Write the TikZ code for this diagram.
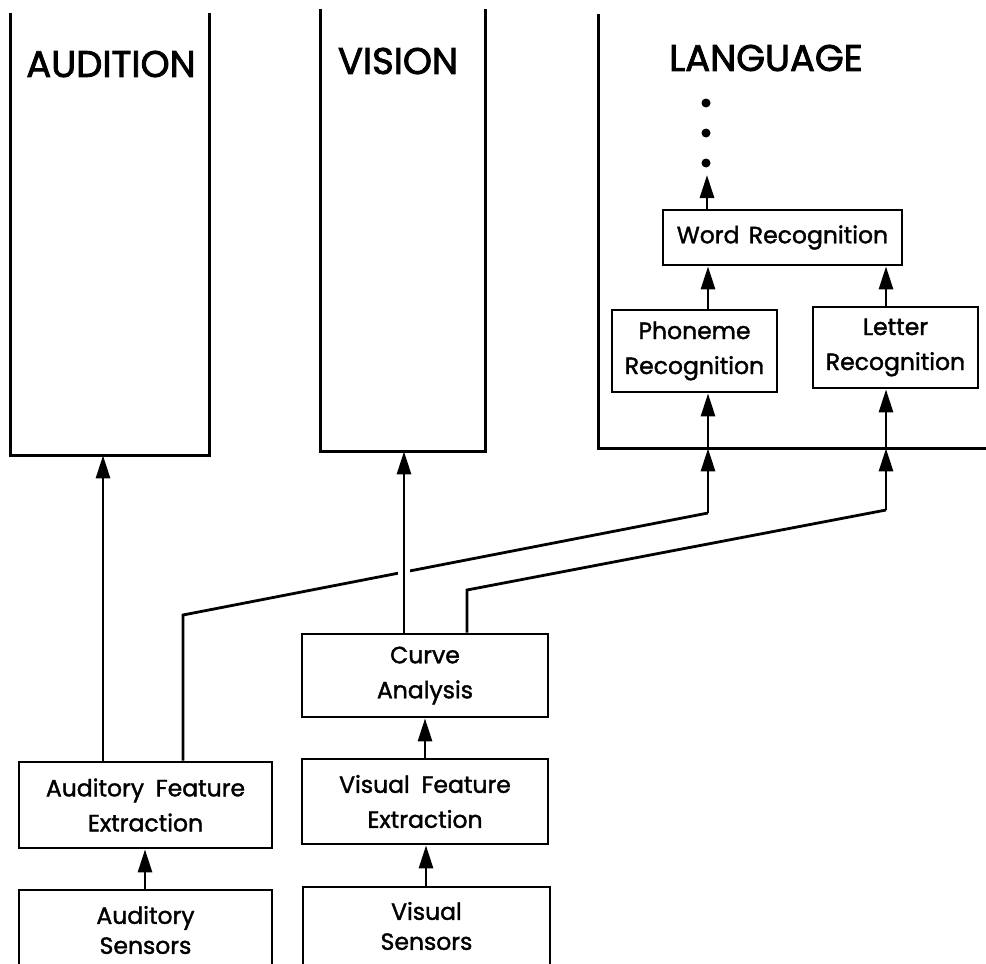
\documentclass[tikz,border=0pt]{standalone}
\usepackage{fontspec}
\setmainfont{Poppins}
\newfontfamily\boxfont{Poppins}[FakeBold=1.6]
\newfontfamily\lblfont{Poppins}[FakeBold=2.2]
\usetikzlibrary{arrows.meta}
\begin{document}
\begin{tikzpicture}[x=1pt,y=-1pt,
  line width=2.8pt, line join=miter,
  box/.style={draw, rectangle, inner sep=0pt, align=center, font=\boxfont\fontsize{23.5}{35}\selectfont},
  sensorbox/.style={box, font=\boxfont\fontsize{23.5}{30}\selectfont},
  col/.style={rectangle, inner sep=0pt, draw=none},
  lbl/.style={inner sep=0pt, font=\lblfont\fontsize{37}{40}\selectfont},
  arr/.style={-{Triangle[length=23pt,width=14pt]}}
]
\useasboundingbox (0,0) rectangle (986,964);
\clip (0,0) rectangle (986,964);

% columns (open at top)
\node[col, minimum width=196pt, minimum height=440pt] (audition) at (110,234) {};
\node[col, minimum width=162pt, minimum height=440pt] (vision) at (403,230) {};
\node[col, minimum width=386pt, minimum height=432pt] (language) at (793,231) {};

\draw (audition.north west) -- (audition.south west) -- (audition.south east) -- (audition.north east);
\draw (vision.north west) -- (vision.south west) -- (vision.south east) -- (vision.north east);
\draw (language.north west) -- (language.south west) -- (language.south east);

\node[lbl] (laud) at (111,64) {AUDITION};
\node[lbl] (lvis) at (398,61) {VISION};
\node[lbl] (llang) at (766,58) {LANGUAGE};

% dots
\fill (706,103) circle (4.5pt);
\fill (706,133) circle (4.5pt);
\fill (706,163) circle (4.5pt);
\coordinate (dotend) at (707,175);

% language boxes
\node[box, minimum width=239pt, minimum height=55pt] (word) at (782.5,237.5) {Word\hspace{0.4em}Recognition};
\node[box, minimum width=165pt, minimum height=82pt] (phon) at (694.5,351) {Phoneme\\Recognition};
\node[box, minimum width=165pt, minimum height=81pt] (letter) at (895.5,347.5) {Letter\\Recognition};

% lower boxes
\node[box, minimum width=246pt, minimum height=83pt] (curve) at (425,675.5) {Curve\\Analysis};
\node[box, minimum width=246pt, minimum height=85pt] (vfe) at (425,801.5) {Visual\hspace{0.5em}Feature\\Extraction};
\node[box, minimum width=253pt, minimum height=86pt] (afe) at (145.5,805) {Auditory\hspace{0.5em}Feature\\Extraction};
\node[sensorbox, minimum width=253pt, minimum height=80pt] (as) at (145.5,930) {Auditory\\Sensors};
\node[sensorbox, minimum width=247pt, minimum height=78pt] (vs) at (426.5,926) {Visual\\Sensors};

% x positions of connectors
\coordinate (xa) at (103,0);
\coordinate (xb) at (183,0);
\coordinate (xv) at (404,0);
\coordinate (xc) at (467,0);
\coordinate (xp) at (708,0);
\coordinate (xl) at (886,0);
\coordinate (xw) at (707,0);
\coordinate (bend1) at (183,615);
\coordinate (bend1r) at (708,513);
\coordinate (bend2) at (467,590);
\coordinate (bend2r) at (886,510);

% sensors to feature extraction
\draw[arr] (145,0 |- as.north) -- (145,0 |- afe.south);
\draw[arr] (426,0 |- vs.north) -- (426,0 |- vfe.south);
\draw[arr] (425,0 |- vfe.north) -- (425,0 |- curve.south);

% audition
\draw[arr] (xa |- afe.north) -- (xa |- audition.south);

% auditory feature extraction to phoneme
\draw (xb |- afe.north) -- (bend1) -- (bend1r);
\draw[arr] (bend1r) -- (xp |- language.south);
\draw[arr] (xp |- language.south) -- (xp |- phon.south);

% vision arrow with gap in crossing line
\draw[white, line width=12pt] (404,566) -- (404,582);
\draw[arr] (xv |- curve.north) -- (xv |- vision.south);

% curve analysis to letter
\draw (xc |- curve.north) -- (bend2) -- (bend2r);
\draw[arr] (bend2r) -- (xl |- language.south);
\draw[arr] (xl |- language.south) -- (xl |- letter.south);

% within language
\draw[arr] (xp |- phon.north) -- (xp |- word.south);
\draw[arr] (xl |- letter.north) -- (xl |- word.south);
\draw[arr] (xw |- word.north) -- (dotend);
\end{tikzpicture}
\end{document}
